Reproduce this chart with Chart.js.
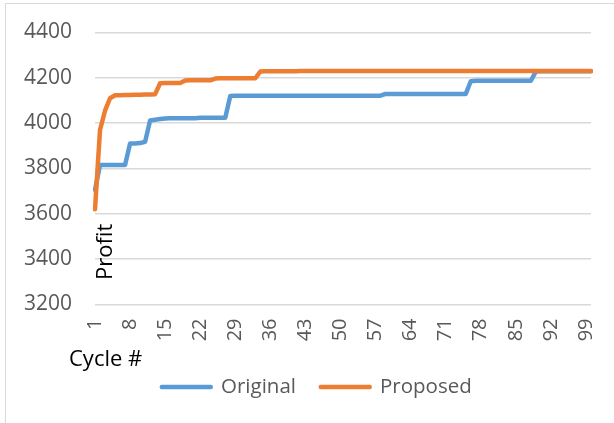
<!DOCTYPE html>
<html>
<head>
<meta charset="utf-8">
<script src="https://cdn.jsdelivr.net/npm/chart.js@4/dist/chart.umd.min.js"></script>
<style>
  html, body { margin: 0; padding: 0; background: #fff; overflow: hidden; }
  #wrap { position: relative; width: 614px; height: 423px; overflow: hidden; }
  #frame { position: absolute; left: 5px; top: 3px; width: 700px; height: 600px;
           border: 1.5px solid #d9d9d9; box-sizing: border-box; }
  canvas { position: absolute; left: 0; top: 0; }
</style>
</head>
<body>
<div id="wrap">
  <div id="frame"></div>
  <canvas id="chart" width="614" height="423"></canvas>
</div>
<script>
// Cycle numbers 1..100 (category axis)
const cycles = [];
for (let c = 1; c <= 100; c++) cycles.push(String(c));

// Profit per cycle, original schedule
const original = [
  3705, 3815, 3815, 3815, 3815, 3815, 3815, 3910, 3910, 3912,
  3918, 4012, 4015, 4018, 4021, 4022, 4022, 4022, 4022, 4022,
  4022, 4024, 4024, 4024, 4024, 4024, 4024, 4120, 4121, 4121,
  4121, 4121, 4121, 4121, 4121, 4121, 4121, 4121, 4121, 4121,
  4121, 4121, 4121, 4121, 4121, 4121, 4121, 4121, 4121, 4121,
  4121, 4121, 4121, 4121, 4121, 4121, 4121, 4121, 4129, 4129,
  4129, 4129, 4129, 4129, 4129, 4129, 4129, 4129, 4129, 4129,
  4129, 4129, 4129, 4129, 4129, 4185, 4187, 4187, 4187, 4187,
  4187, 4187, 4187, 4187, 4187, 4187, 4187, 4187, 4228, 4229,
  4229, 4229, 4229, 4229, 4229, 4229, 4229, 4229, 4229, 4229
];

// Profit per cycle, proposed schedule
const proposed = [
  3620, 3970, 4055, 4110, 4123, 4123, 4124, 4124, 4125, 4125,
  4126, 4127, 4128, 4176, 4177, 4177, 4177, 4177, 4188, 4189,
  4189, 4189, 4189, 4189, 4197, 4198, 4198, 4198, 4198, 4198,
  4198, 4198, 4198, 4228, 4229, 4229, 4229, 4229, 4229, 4229,
  4229, 4230, 4230, 4230, 4230, 4230, 4230, 4230, 4230, 4230,
  4230, 4230, 4230, 4230, 4230, 4230, 4230, 4230, 4230, 4230,
  4230, 4230, 4230, 4230, 4230, 4230, 4230, 4230, 4230, 4230,
  4230, 4230, 4230, 4230, 4230, 4230, 4230, 4230, 4230, 4230,
  4230, 4230, 4230, 4230, 4230, 4230, 4230, 4230, 4230, 4230,
  4230, 4230, 4230, 4230, 4230, 4230, 4230, 4230, 4230, 4230
];

const seriesNames = ['Original', 'Proposed'];
const seriesColors = ['#5B9BD5', '#ED7D31'];

// Value axis range
const yMin = 3200;
const yMax = 4400;
const yStep = 200;
const labelEvery = 7;

const yTitle = 'Profit';
const xTitle = 'Cycle #';

const FONT = '"Open Sans", "Noto Sans", sans-serif';
const TICK_COLOR = '#595959';

// Axis titles: "Profit" sits inside the plot, "Cycle #" under the tick labels
const axisTitles = {
  id: 'axisTitles',
  afterDraw(chart) {
    const { ctx, chartArea } = chart;
    ctx.save();
    ctx.fillStyle = '#000';
    ctx.font = '22px ' + FONT;
    ctx.textBaseline = 'alphabetic';
    ctx.textAlign = 'left';
    ctx.save();
    ctx.translate(chartArea.left + 17, chartArea.bottom - 24.5);
    ctx.rotate(-Math.PI / 2);
    ctx.fillText(yTitle, 0, 0);
    ctx.restore();
    ctx.fillText(xTitle, chartArea.left - 26, chartArea.bottom + 61.5);
    ctx.restore();
  }
};

// Nudge the bottom legend so it sits centred under the whole frame
const legendShift = {
  id: 'legendShift',
  afterLayout(chart) {
    if (chart.legend) {
      chart.legend.left += 9.25;
      chart.legend.right += 9.25;
    }
  }
};

const lineStyle = (i) => ({
  label: seriesNames[i],
  borderColor: seriesColors[i],
  backgroundColor: seriesColors[i],
  borderWidth: 4.5,
  borderCapStyle: 'round',
  borderJoinStyle: 'round',
  pointRadius: 0,
  pointHoverRadius: 0,
  tension: 0,
  fill: false
});

// Scales keep a fixed footprint so the plot area stays put
const noScalePadding = (scale) => {
  scale.paddingLeft = 0;
  scale.paddingRight = 0;
  scale.paddingTop = 0;
  scale.paddingBottom = 0;
};

new Chart(document.getElementById('chart'), {
  type: 'line',
  data: {
    labels: cycles,
    datasets: [
      // lower order is painted last, so the proposed line stays on top
      Object.assign(lineStyle(0), { data: original, order: 1 }),
      Object.assign(lineStyle(1), { data: proposed, order: 0 })
    ]
  },
  options: {
    responsive: false,
    animation: false,
    events: [],
    layout: { padding: { left: 24, right: 23, top: 32.5, bottom: 15.75 } },
    scales: {
      x: {
        type: 'category',
        offset: false,
        grid: { display: false, drawTicks: false },
        border: { display: false },
        afterFit(scale) {
          scale.height = 47.5;
          noScalePadding(scale);
        },
        ticks: {
          autoSkip: false,
          maxRotation: 90,
          minRotation: 90,
          padding: 14,
          color: TICK_COLOR,
          font: { family: FONT, size: 20 },
          callback(value, index) {
            return index % labelEvery === 0 ? cycles[index] : null;
          }
        }
      },
      y: {
        min: yMin,
        max: yMax,
        grid: { color: '#d9d9d9', lineWidth: 1.5, drawTicks: false },
        border: { display: false },
        afterFit(scale) {
          scale.width = 71;
          noScalePadding(scale);
        },
        ticks: {
          stepSize: yStep,
          padding: 23,
          color: TICK_COLOR,
          font: { family: FONT, size: 21 },
          callback: (v) => String(v)
        }
      }
    },
    plugins: {
      tooltip: { enabled: false },
      legend: {
        position: 'bottom',
        labels: {
          usePointStyle: true,
          pointStyle: 'line',
          pointStyleWidth: 49,
          padding: 24.75,
          color: TICK_COLOR,
          font: { family: FONT, size: 20.5 },
          sort: (a, b) => a.datasetIndex - b.datasetIndex,
          generateLabels(chart) {
            const items = Chart.defaults.plugins.legend.labels.generateLabels(chart);
            return items.map((it) => Object.assign(it, {
              pointStyle: 'line',
              lineWidth: 4.5,
              lineCap: 'round',
              strokeStyle: seriesColors[it.datasetIndex],
              fillStyle: seriesColors[it.datasetIndex]
            }));
          }
        }
      }
    }
  },
  plugins: [axisTitles, legendShift]
});
</script>
</body>
</html>
